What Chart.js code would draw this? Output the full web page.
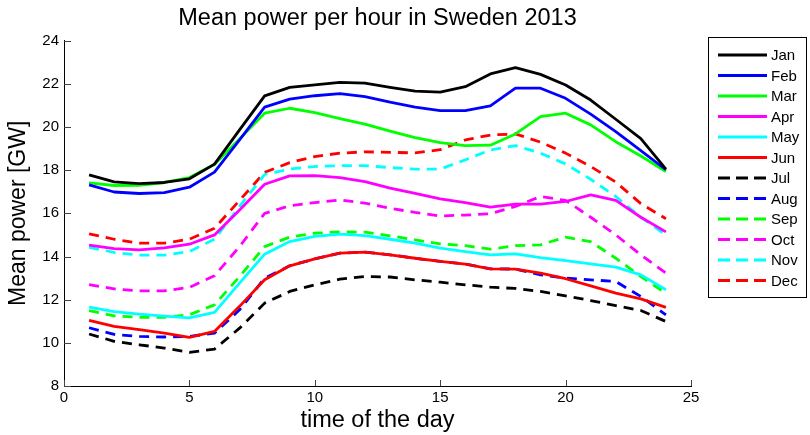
<!DOCTYPE html>
<html><head><meta charset="utf-8">
<script src="https://cdn.jsdelivr.net/npm/chart.js@4/dist/chart.umd.min.js"></script>
<style>html,body{margin:0;padding:0;background:#fff;overflow:hidden}#wrap{width:810px;height:435px;position:relative}</style>
</head><body><div id="wrap"><canvas id="c" width="810" height="435"></canvas></div>
<script>
const hours = [1,2,3,4,5,6,7,8,9,10,11,12,13,14,15,16,17,18,19,20,21,22,23,24];
const jan = [17.78,17.46,17.38,17.43,17.60,18.28,19.87,21.44,21.84,21.95,22.07,22.03,21.84,21.66,21.62,21.87,22.46,22.75,22.44,21.95,21.25,20.36,19.46,18.05];
const feb = [17.32,16.99,16.92,16.96,17.21,17.91,19.40,20.92,21.29,21.45,21.55,21.41,21.15,20.92,20.76,20.76,20.98,21.80,21.80,21.33,20.60,19.79,18.91,18.02];
const mar = [17.41,17.29,17.30,17.43,17.66,18.26,19.45,20.64,20.87,20.67,20.39,20.13,19.81,19.51,19.28,19.14,19.16,19.68,20.48,20.64,20.10,19.32,18.66,17.94];
const apr = [14.53,14.37,14.31,14.40,14.57,15.00,16.16,17.35,17.74,17.75,17.66,17.47,17.17,16.93,16.67,16.50,16.29,16.43,16.43,16.55,16.86,16.60,15.82,15.14];
const may = [11.66,11.45,11.33,11.24,11.16,11.41,12.77,14.11,14.69,14.93,15.04,14.97,14.80,14.62,14.39,14.23,14.08,14.12,13.95,13.81,13.66,13.51,13.15,12.46];
const jun = [11.04,10.76,10.61,10.45,10.25,10.53,11.69,12.92,13.57,13.89,14.16,14.20,14.08,13.92,13.77,13.65,13.43,13.42,13.23,12.97,12.64,12.30,12.04,11.64];
const jul = [10.41,10.07,9.91,9.76,9.56,9.71,10.68,11.84,12.38,12.69,12.95,13.07,13.05,12.92,12.81,12.69,12.58,12.52,12.38,12.18,11.96,11.72,11.50,10.99];
const aug = [10.70,10.39,10.30,10.27,10.30,10.45,11.53,13.00,13.57,13.89,14.16,14.20,14.08,13.92,13.77,13.65,13.43,13.42,13.15,13.00,12.92,12.84,12.15,11.30];
const sep = [11.49,11.25,11.18,11.18,11.30,11.76,13.07,14.46,14.90,15.08,15.14,15.13,14.96,14.77,14.59,14.50,14.34,14.50,14.54,14.90,14.69,13.92,13.07,12.30];
const oct = [12.70,12.50,12.41,12.41,12.57,13.11,14.46,16.00,16.35,16.50,16.62,16.47,16.24,16.04,15.88,15.92,15.98,16.32,16.78,16.60,15.82,15.00,14.08,13.23];
const nov = [14.42,14.19,14.06,14.06,14.23,14.80,16.32,17.80,18.05,18.17,18.21,18.21,18.12,18.05,18.05,18.48,18.94,19.14,18.79,18.29,17.58,16.78,15.82,15.00];
const dec = [15.05,14.80,14.62,14.62,14.80,15.31,16.60,17.90,18.35,18.63,18.79,18.85,18.83,18.80,18.95,19.40,19.63,19.68,19.30,18.79,18.17,17.45,16.45,15.75];

const monthLabels = ['Jan','Feb','Mar','Apr','May','Jun','Jul','Aug','Sep','Oct','Nov','Dec'];
const monthSeries = [jan,feb,mar,apr,may,jun,jul,aug,sep,oct,nov,dec];
const monthColors = ['#000000','#0000ff','#00ff00','#ff00ff','#00ffff','#ff0000','#000000','#0000ff','#00ff00','#ff00ff','#00ffff','#ff0000'];
const monthDashed = [false,false,false,false,false,false,true,true,true,true,true,true];

const titleText = 'Mean power per hour in Sweden 2013';
const xTitle = 'time of the day';
const yTitle = 'Mean power [GW]';

const FONT = "'Liberation Sans', Arial, Helvetica, sans-serif";
Chart.defaults.font.family = FONT;
Chart.defaults.color = '#000';

const datasets = monthSeries.map((s, i) => ({
  label: monthLabels[i],
  data: hours.map((h, j) => ({x: h, y: s[j]})),
  borderColor: monthColors[i],
  backgroundColor: monthColors[i],
  borderWidth: 2.8,
  borderDash: monthDashed[i] ? [10, 7] : [],
  borderCapStyle: 'butt',
  borderJoinStyle: 'round',
  pointRadius: 0,
  tension: 0,
  fill: false
}));

const inwardTicks = {
  id: 'inwardTicks',
  afterDraw(chart) {
    const {ctx, chartArea, scales} = chart;
    const x = scales.x, y = scales.y;
    ctx.save();
    ctx.strokeStyle = '#444';
    ctx.lineWidth = 1;
    x.ticks.forEach(t => {
      const px = Math.round(x.getPixelForValue(t.value)) + 0.5;
      ctx.beginPath(); ctx.moveTo(px, chartArea.bottom); ctx.lineTo(px, chartArea.bottom - 6); ctx.stroke();
    });
    y.ticks.forEach(t => {
      const py = Math.round(y.getPixelForValue(t.value)) + 0.5;
      ctx.beginPath(); ctx.moveTo(chartArea.left, py); ctx.lineTo(chartArea.left + 7, py); ctx.stroke();
    });
    ctx.restore();
  }
};

const boxLegend = {
  id: 'boxLegend',
  afterDraw(chart) {
    const ctx = chart.ctx;
    const bx = 708.5, by = 37.5, bw = 98, bh = 260;
    ctx.save();
    ctx.fillStyle = '#fff';
    ctx.fillRect(bx, by, bw, bh);
    ctx.strokeStyle = '#000';
    ctx.lineWidth = 1;
    ctx.setLineDash([]);
    ctx.strokeRect(bx, by, bw, bh);
    ctx.font = '15px ' + FONT;
    ctx.textBaseline = 'middle';
    ctx.textAlign = 'left';
    chart.data.datasets.forEach((ds, i) => {
      const yy = 55 + i * 20.5;
      ctx.beginPath();
      ctx.strokeStyle = ds.borderColor;
      ctx.lineWidth = 2.8;
      ctx.lineCap = 'butt';
      ctx.setLineDash(ds.borderDash.length ? [12, 6] : []);
      ctx.moveTo(718, yy); ctx.lineTo(767, yy);
      ctx.stroke();
      ctx.setLineDash([]);
      ctx.fillStyle = '#000';
      ctx.fillText(ds.label, 771, yy + 1);
    });
    ctx.restore();
  }
};

new Chart(document.getElementById('c'), {
  type: 'line',
  data: {datasets},
  plugins: [inwardTicks, boxLegend],
  options: {
    responsive: false,
    animation: false,
    devicePixelRatio: 1,
    layout: {padding: {left: 0, right: 119, top: 0, bottom: 0}},
    plugins: {
      legend: {display: false},
      tooltip: {enabled: false},
      title: {
        display: true, text: titleText, fullSize: false,
        font: {size: 23.5, weight: 'normal'}, color: '#000',
        padding: {top: 4, bottom: 8.5}
      }
    },
    scales: {
      x: {
        type: 'linear', min: 0, max: 25,
        ticks: {stepSize: 5, font: {size: 15}, color: '#000', padding: 3, maxRotation: 0},
        grid: {display: false, drawTicks: false},
        border: {display: true, color: '#000', width: 1},
        title: {display: true, text: xTitle, font: {size: 23.5}, color: '#000', padding: {top: 0, bottom: 0}},
        afterFit: s => { s.height = 49; }
      },
      y: {
        min: 8, max: 24,
        ticks: {stepSize: 2, font: {size: 15}, color: '#000', padding: 5},
        grid: {display: false, drawTicks: false},
        border: {display: true, color: '#000', width: 1},
        title: {display: true, text: yTitle, font: {size: 23}, color: '#000', padding: {top: 5, bottom: 0}},
        afterFit: s => { s.width = 64; }
      }
    }
  }
});
</script></body></html>
